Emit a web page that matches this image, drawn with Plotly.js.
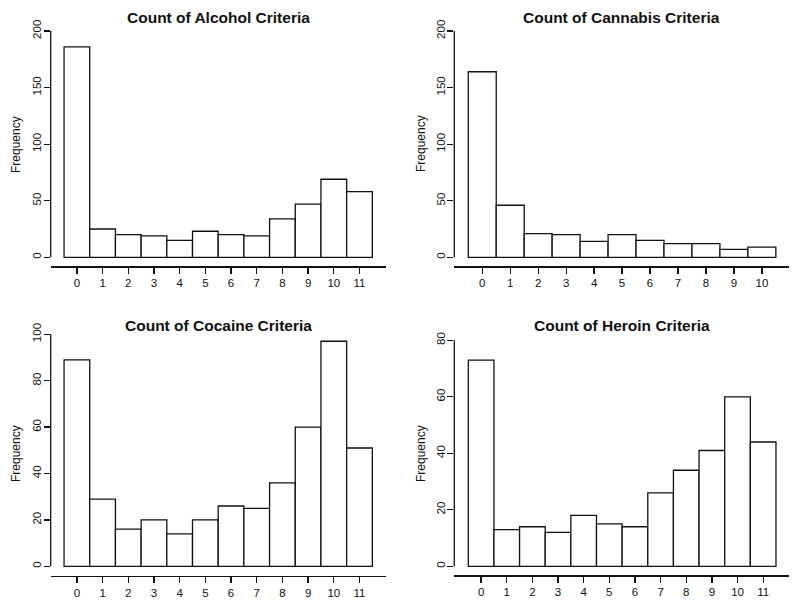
<!DOCTYPE html>
<html><head><meta charset="utf-8">
<script src="https://cdn.plot.ly/plotly-3.0.1.min.js"></script>
<style>html,body{margin:0;padding:0;background:#fff}</style>
</head><body><div id="chart" style="width:800px;height:605px"></div>
<script>
const alcoholCounts = [0,1,2,3,4,5,6,7,8,9,10,11];
const alcoholFreq = [186,25,20,19,15,23,20,19,34,47,69,58];
const cannabisCounts = [0,1,2,3,4,5,6,7,8,9,10];
const cannabisFreq = [164,46,21,20,14,20,15,12,12,7,9];
const cocaineCounts = [0,1,2,3,4,5,6,7,8,9,10,11];
const cocaineFreq = [89,29,16,20,14,20,26,25,36,60,97,51];
const heroinCounts = [0,1,2,3,4,5,6,7,8,9,10,11];
const heroinFreq = [73,13,14,12,18,15,14,26,34,41,60,44];
const panelTitles = ["Count of Alcohol Criteria","Count of Cannabis Criteria","Count of Cocaine Criteria","Count of Heroin Criteria"];
const yTickVals = [[0,50,100,150,200],[0,50,100,150,200],[0,20,40,60,80,100],[0,20,40,60,80]];
const yLabel = "Frequency";

const W = 800, H = 605;
const FONT = "Liberation Sans, Arial, Helvetica, sans-serif";
const INK = "#111";
// pixel geometry of each panel's plot region
const panels = [
  {cx: alcoholCounts, cy: alcoholFreq, px:[50.7,385.7], xr:[-1.02,12.02], py:[21.95,266.35], yr:[-8,208], ymax:200, titleY:17, labX:16.7, labY:144.3},
  {cx: cannabisCounts, cy: cannabisFreq, px:[454.3,789], xr:[-1.0,10.97], py:[21.95,266.35], yr:[-8,208], ymax:200, titleY:17, labX:421.7, labY:143.3},
  {cx: cocaineCounts, cy: cocaineFreq, px:[50.7,385.7], xr:[-1.02,12.02], py:[325.0,575.6], yr:[-4,104], ymax:100, titleY:326, labX:16.7, labY:453.3},
  {cx: heroinCounts, cy: heroinFreq, px:[454.3,789], xr:[-1.046,12.008], py:[331.26,575.34], yr:[-3.2,83.2], ymax:80, titleY:326, labX:421.7, labY:453.3}
];

const data = [];
const layout = {
  width: W, height: H, margin:{l:0,r:0,t:0,b:0},
  paper_bgcolor:"#fff", plot_bgcolor:"#fff", showlegend:false, bargap:0,
  font:{family:FONT, size:12, color:INK},
  annotations:[], shapes:[]
};
panels.forEach((p,i)=>{
  const n = i===0 ? "" : String(i+1);
  data.push({type:"bar", x:p.cx, y:p.cy, width:1, xaxis:"x"+n, yaxis:"y"+n,
    marker:{color:"#fff", line:{color:INK, width:1.3}}, hoverinfo:"x+y"});
  layout["xaxis"+n] = {domain:[p.px[0]/W, p.px[1]/W], range:p.xr, anchor:"y"+n,
    tickmode:"array", tickvals:p.cx, ticktext:p.cx.map(String), ticks:"outside", ticklen:6, tickwidth:1.3, tickcolor:INK,
    showline:true, linecolor:INK, linewidth:1.3, showgrid:false, zeroline:false, fixedrange:true,
    tickfont:{family:FONT, size:11.5, color:INK}};
  layout["yaxis"+n] = {domain:[(H-p.py[1])/H, (H-p.py[0])/H], range:p.yr, anchor:"x"+n,
    tickmode:"array", tickvals:yTickVals[i], ticks:"outside", ticklen:6, tickwidth:1.3, tickcolor:INK, tickangle:-90,
    ticklabelstandoff:-2,
    showline:false, showgrid:false, zeroline:false, fixedrange:true,
    tickfont:{family:FONT, size:11.5, color:INK}};
  layout.shapes.push({type:"line", xref:"x"+n+" domain", yref:"y"+n, x0:0, x1:0, y0:0, y1:p.ymax,
    line:{color:INK, width:1.3}});
  layout.annotations.push({text:"<b>"+panelTitles[i]+"</b>", xref:"paper", yref:"paper",
    x:(p.px[0]+p.px[1])/2/W, y:(H-p.titleY)/H, xanchor:"center", yanchor:"middle", showarrow:false,
    font:{family:FONT, size:15.5, color:INK}});
  layout.annotations.push({text:yLabel, xref:"paper", yref:"paper", textangle:-90,
    x:p.labX/W, y:(H-p.labY)/H, xanchor:"center", yanchor:"middle", showarrow:false,
    font:{family:FONT, size:12, color:INK}});
});
Plotly.newPlot("chart", data, layout, {displayModeBar:false, staticPlot:true});
</script></body></html>
